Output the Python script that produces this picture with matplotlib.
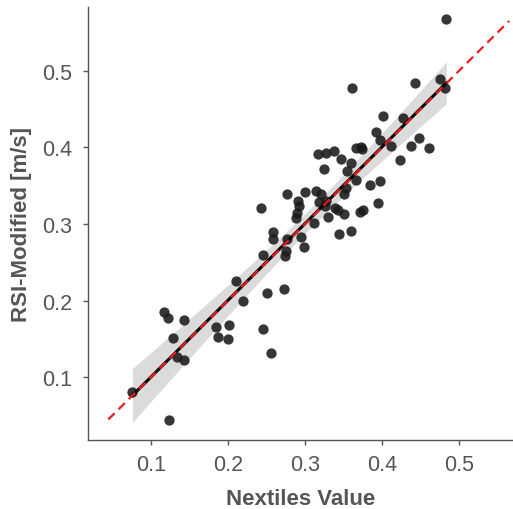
import numpy as np
import matplotlib
matplotlib.use("Agg")
import matplotlib.pyplot as plt

nextiles = [0.4836, 0.3606, 0.4430, 0.4750, 0.4819, 0.4008, 0.4267, 0.3921, 0.3977, 0.4478,
            0.4120, 0.4379, 0.4612, 0.3662, 0.3723, 0.3740, 0.3170, 0.3270, 0.3382, 0.3468,
            0.3593, 0.4232, 0.3248, 0.3542, 0.3662, 0.3839, 0.3977, 0.3529, 0.3145, 0.3205,
            0.3507, 0.2773, 0.2998, 0.2912, 0.3188, 0.3274, 0.2929, 0.3257, 0.2428, 0.3951,
            0.3386, 0.3425, 0.3749, 0.3714, 0.3503, 0.2903, 0.2881, 0.3304, 0.3123, 0.2584,
            0.2584, 0.2769, 0.2950, 0.3447, 0.3593, 0.2985, 0.2756, 0.2743, 0.2454, 0.2109,
            0.2204, 0.2506, 0.2730, 0.2454, 0.2566, 0.1850, 0.1867, 0.2010, 0.2001, 0.1168,
            0.1220, 0.1431, 0.1293, 0.1341, 0.1431, 0.0763, 0.1233]
rsi_mod = [0.5674, 0.4778, 0.4839, 0.4887, 0.4778, 0.4404, 0.4378, 0.4196, 0.4100, 0.4122,
           0.4022, 0.4022, 0.3996, 0.3987, 0.4009, 0.3978, 0.3909, 0.3930, 0.3957, 0.3848,
           0.3800, 0.3830, 0.3717, 0.3696, 0.3574, 0.3513, 0.3557, 0.3474, 0.3430, 0.3387,
           0.3387, 0.3387, 0.3413, 0.3300, 0.3291, 0.3304, 0.3235, 0.3230, 0.3213, 0.3274,
           0.3204, 0.3187, 0.3187, 0.3161, 0.3135, 0.3148, 0.3083, 0.3096, 0.3013, 0.2891,
           0.2804, 0.2804, 0.2826, 0.2865, 0.2904, 0.2700, 0.2643, 0.2587, 0.2600, 0.2261,
           0.1991, 0.2096, 0.2152, 0.1630, 0.1322, 0.1657, 0.1530, 0.1687, 0.1504, 0.1857,
           0.1778, 0.1743, 0.1509, 0.1265, 0.1230, 0.0804, 0.0448]
ticks = [0.1, 0.2, 0.3, 0.4, 0.5]
tick_labels = ["0.1", "0.2", "0.3", "0.4", "0.5"]

x = np.array(nextiles)
y = np.array(rsi_mod)

plt.rcParams['font.family'] = ['Liberation Sans', 'DejaVu Sans']

fig = plt.figure(figsize=(5.13, 5.10), dpi=100)
ax = fig.add_axes([0.172, 0.136, 0.828, 0.848])

# regression with 95% CI
n = len(x)
slope, intercept = np.polyfit(x, y, 1)
xs = np.linspace(x.min(), x.max(), 200)
ys = slope * xs + intercept
resid = y - (slope * x + intercept)
s = np.sqrt(np.sum(resid ** 2) / (n - 2))
sxx = np.sum((x - x.mean()) ** 2)
se = s * np.sqrt(1.0 / n + (xs - x.mean()) ** 2 / sxx)
ci = 1.99 * se * 1.3
ax.fill_between(xs, ys - ci, ys + ci, color="#c4c4c4", alpha=0.6, linewidth=0, zorder=1)

ax.scatter(x, y, s=55, color="#1a1a1a", alpha=0.88, linewidths=0, zorder=3)
ax.plot(xs, ys, color="black", lw=2.2, zorder=4)
idl = np.array([0.045, 0.565])
ax.plot(idl, idl, color="#ee1c1c", lw=1.6, ls=(0, (4, 2.5)), zorder=5)

ax.set_xlim(0.019, 0.57)
ax.set_ylim(0.0187, 0.583)
ax.set_xticks(ticks)
ax.set_xticklabels(tick_labels)
ax.set_yticks(ticks)
ax.set_yticklabels(tick_labels)

for side in ["top", "right"]:
    ax.spines[side].set_visible(False)
for side in ["left", "bottom"]:
    ax.spines[side].set_color("#555555")
    ax.spines[side].set_linewidth(1.0)
ax.tick_params(axis="both", colors="#555555", labelcolor="#555555", labelsize=15.5,
               length=3.5, width=1.0, pad=8)
ax.tick_params(axis="x", pad=7)

ax.set_xlabel("Nextiles Value", fontsize=16, fontweight="bold", color="#555555", labelpad=9)
ax.set_ylabel("RSI-Modified [m/s]", fontsize=16, fontweight="bold", color="#555555", labelpad=7)

fig.savefig("out.png", dpi=100)
